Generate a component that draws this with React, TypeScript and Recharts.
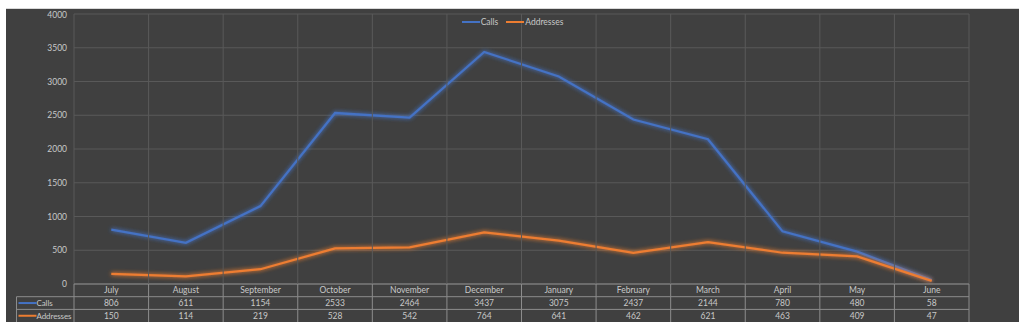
import React from 'react';
import { LineChart, Line, XAxis, YAxis, CartesianGrid, Legend } from 'recharts';

const months = ['July', 'August', 'September', 'October', 'November', 'December', 'January', 'February', 'March', 'April', 'May', 'June'];
const calls = [806, 611, 1154, 2533, 2464, 3437, 3075, 2437, 2144, 780, 480, 58];
const addresses = [150, 114, 219, 528, 542, 764, 641, 462, 621, 463, 409, 47];
const yTicks = [0, 500, 1000, 1500, 2000, 2500, 3000, 3500, 4000];
const seriesNames = ['Calls', 'Addresses'];
const seriesColors = ['#4472C4', '#ED7D31'];

const data = months.map((m, i) => ({ month: m, calls: calls[i], addresses: addresses[i] }));

const W = 1013;
const H = 312;
const M = { top: 4, right: 50, bottom: 0, left: 0 };
const Y_W = 68;
const X_H = 38;
const PLOT_W = W - M.left - M.right - Y_W;
const PLOT_H = H - M.top - M.bottom - X_H;
const BW = PLOT_W / months.length;
const ROW = 12.7;
const LEFT_COL = 57.5;
const FONT = 'Lato, "Open Sans", sans-serif';
const FS = 8.5;
const TEXT = '#c8c8c8';
const GRID = '#595959';
const TABLE = '#8c8c8c';

const TableTick = (props: any) => {
  const { x, y, index, payload } = props;
  const l = x - BW / 2;
  const r = x + BW / 2;
  const last = index === months.length - 1;
  const els: any[] = [];
  els.push(<line key="g" x1={l} x2={l} y1={y - PLOT_H} y2={y} stroke={GRID} strokeWidth={1} />);
  if (last) els.push(<line key="gr" x1={r} x2={r} y1={y - PLOT_H} y2={y} stroke={GRID} strokeWidth={1} />);
  els.push(<line key="tv" x1={l} x2={l} y1={y} y2={y + X_H} stroke={TABLE} strokeWidth={1} />);
  if (last) els.push(<line key="tvr" x1={r} x2={r} y1={y} y2={y + X_H} stroke={TABLE} strokeWidth={1} />);
  els.push(<line key="h0" x1={l} x2={r} y1={y} y2={y} stroke={TABLE} strokeWidth={1} />);
  const ls = index === 0 ? l - LEFT_COL : l;
  els.push(<line key="h1" x1={ls} x2={r} y1={y + ROW} y2={y + ROW} stroke={TABLE} strokeWidth={1} />);
  els.push(<line key="h2" x1={ls} x2={r} y1={y + 2 * ROW} y2={y + 2 * ROW} stroke={TABLE} strokeWidth={1} />);
  const ts = { fontSize: FS, fill: TEXT, fontFamily: FONT } as any;
  els.push(<text key="m" x={x} y={y + ROW / 2} textAnchor="middle" dominantBaseline="central" {...ts}>{payload.value}</text>);
  els.push(<text key="c" x={x} y={y + ROW * 1.5} textAnchor="middle" dominantBaseline="central" {...ts}>{calls[index]}</text>);
  els.push(<text key="a" x={x} y={y + ROW * 2.5} textAnchor="middle" dominantBaseline="central" {...ts}>{addresses[index]}</text>);
  if (index === 0) {
    const lx = l - LEFT_COL;
    els.push(<line key="lb" x1={lx} x2={lx} y1={y + ROW} y2={y + X_H} stroke={TABLE} strokeWidth={1} />);
    seriesNames.forEach((n, i) => {
      const cy = y + ROW * (1.5 + i);
      els.push(<line key={'sw' + i} x1={lx + 2} x2={lx + 20} y1={cy} y2={cy} stroke={seriesColors[i]} strokeWidth={2} />);
      els.push(<text key={'sn' + i} x={lx + 20} y={cy} dominantBaseline="central" {...ts} fontSize={8} letterSpacing={-0.1}>{n}</text>);
    });
  }
  return <g>{els}</g>;
};

const renderLegend = () => (
  <div style={{ display: 'flex', justifyContent: 'center', fontFamily: FONT, fontSize: FS, color: TEXT, lineHeight: '12px' }}>
    {seriesNames.map((n, i) => (
      <div key={n} style={{ display: 'flex', alignItems: 'center', marginRight: i === 0 ? 8 : 0 }}>
        <span style={{ display: 'inline-block', width: 18, height: 2, background: seriesColors[i], marginRight: 1 }} />
        <span>{n}</span>
      </div>
    ))}
  </div>
);

export default function App() {
  return (
    <div style={{ position: 'absolute', left: 0, top: 0, width: 1034, height: 331, background: '#ffffff' }}>
      <div style={{ position: 'absolute', left: 6, top: 8, width: W, height: H + 1, background: '#404040', borderTop: '1px solid #d9d9d9' }}>
        <div style={{ position: 'absolute', left: 0, top: 1 }}>
          <LineChart width={W} height={H} data={data} margin={M}>
            <defs>
              <filter id="glow" filterUnits="userSpaceOnUse" x="0" y="0" width={W} height={H}>
                <feGaussianBlur in="SourceGraphic" stdDeviation="2" result="b" />
                <feComponentTransfer in="b" result="b2">
                  <feFuncA type="linear" slope="1.2" />
                </feComponentTransfer>
                <feMerge>
                  <feMergeNode in="b2" />
                  <feMergeNode in="SourceGraphic" />
                </feMerge>
              </filter>
            </defs>
            <CartesianGrid vertical={false} stroke={GRID} strokeWidth={1} />
            <XAxis
              dataKey="month"
              interval={0}
              height={X_H}
              tickLine={false}
              axisLine={false}
              tickSize={0}
              tickMargin={0}
              padding={{ left: BW / 2, right: BW / 2 }}
              tick={<TableTick />}
            />
            <YAxis
              width={Y_W}
              domain={[0, 4000]}
              ticks={yTicks}
              tickLine={false}
              axisLine={false}
              tickSize={0}
              tickMargin={7}
              tick={{ fontSize: FS, fill: TEXT, fontFamily: FONT }}
            />
            <Legend verticalAlign="middle" align="center" layout="horizontal" wrapperStyle={{ top: 6, left: 0, width: W }} content={renderLegend} />
            <Line type="linear" dataKey="calls" name="Calls" stroke={seriesColors[0]} strokeWidth={2.25} dot={false} activeDot={false} isAnimationActive={false} filter="url(#glow)" />
            <Line type="linear" dataKey="addresses" name="Addresses" stroke={seriesColors[1]} strokeWidth={2.25} dot={false} activeDot={false} isAnimationActive={false} filter="url(#glow)" />
          </LineChart>
        </div>
      </div>
    </div>
  );
}
